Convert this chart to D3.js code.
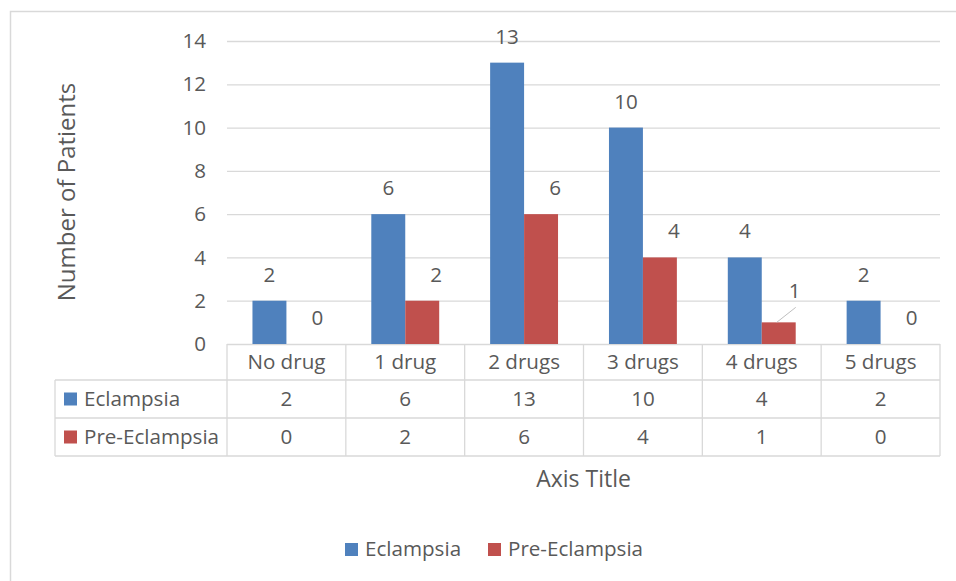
<!DOCTYPE html>
<html>
<head>
<meta charset="utf-8">
<script src="https://cdn.jsdelivr.net/npm/d3@7"></script>
<style>
  html, body { margin: 0; padding: 0; background: #fff; }
  svg { display: block; }
  text { font-family: "Open Sans", sans-serif; fill: #595959; }
</style>
</head>
<body>
<svg id="chart" width="956" height="581"></svg>
<script>
// Number of patients by count of antihypertensive drugs
const categories = ["No drug", "1 drug", "2 drugs", "3 drugs", "4 drugs", "5 drugs"];
const seriesNames = ["Eclampsia", "Pre-Eclampsia"];
const eclampsia = [2, 6, 13, 10, 4, 2];
const preEclampsia = [0, 2, 6, 4, 1, 0];
const yTicks = [0, 2, 4, 6, 8, 10, 12, 14];
const yTitle = "Number of Patients";
const xTitle = "Axis Title";

const seriesValues = [eclampsia, preEclampsia];
const colors = ["#4F81BD", "#C0504D"];
const grid = "#d9d9d9";
const bodySize = 20.6;

const svg = d3.select("#chart");

// outer chart frame
svg.append("rect")
  .attr("x", 10.5).attr("y", 11.5)
  .attr("width", 1000).attr("height", 1000)
  .attr("fill", "none").attr("stroke", grid).attr("stroke-width", 1.5);

const plot = { left: 227, right: 940, top: 41, bottom: 344 };

const x = d3.scaleBand().domain(categories).range([plot.left, plot.right]).padding(0);
const xs = d3.scaleBand().domain(seriesNames).range([0, x.bandwidth()])
  .paddingInner(0).paddingOuter(0.75);
const y = d3.scaleLinear().domain([0, 14]).range([plot.bottom, plot.top]);

// value axis with gridlines
const yAxis = svg.append("g")
  .attr("transform", `translate(${plot.left},0)`)
  .call(d3.axisLeft(y).tickValues(yTicks)
    .tickSizeInner(-(plot.right - plot.left)).tickSizeOuter(0).tickPadding(21));
yAxis.select(".domain").remove();
yAxis.selectAll(".tick line").attr("stroke", grid).attr("stroke-width", 1.3);
yAxis.selectAll(".tick text")
  .attr("font-size", bodySize).attr("fill", "#595959")
  .style("font-family", "'Open Sans', sans-serif");

// bars
const barData = [];
seriesNames.forEach((s, si) => {
  categories.forEach((c, ci) => {
    barData.push({ s, si, c, v: seriesValues[si][ci] });
  });
});

svg.append("g").selectAll("rect")
  .data(barData)
  .join("rect")
  .attr("x", d => x(d.c) + xs(d.s))
  .attr("y", d => y(d.v))
  .attr("width", xs.bandwidth())
  .attr("height", d => y(0) - y(d.v))
  .attr("fill", d => colors[d.si]);

// data labels; the Pre-Eclampsia labels sit to the right of their bars
const labelShift = [0, 14];
const leader = { s: "Pre-Eclampsia", c: "4 drugs", dx: 2, dy: -5 };
const labels = svg.append("g");
barData.forEach(d => {
  const cx = x(d.c) + xs(d.s) + xs.bandwidth() / 2;
  let lx = cx + labelShift[d.si];
  let ly = y(d.v) - 19;
  const moved = d.s === leader.s && d.c === leader.c;
  if (moved) {
    lx += leader.dx;
    ly += leader.dy;
    labels.append("line")
      .attr("x1", lx + 1).attr("y1", ly + 9)
      .attr("x2", cx - 2).attr("y2", y(d.v))
      .attr("stroke", "#bfbfbf").attr("stroke-width", 1);
  }
  labels.append("text")
    .attr("x", lx).attr("y", ly)
    .attr("text-anchor", "middle")
    .attr("font-size", bodySize)
    .text(d.v);
});

// data table under the category axis
const table = svg.append("g");
const rowTops = [344, 380, 418, 456];
const tableLeft = 55;
const lineAttr = sel => sel.attr("stroke", grid).attr("stroke-width", 1.3);

// horizontal rules
[380, 418, 456].forEach(ry => {
  table.append("line").attr("x1", tableLeft).attr("x2", plot.right)
    .attr("y1", ry).attr("y2", ry).call(lineAttr);
});
// vertical rules at category boundaries
const bounds = categories.map(c => x(c)).concat([plot.right]);
bounds.forEach(bx => {
  table.append("line").attr("x1", bx).attr("x2", bx)
    .attr("y1", plot.bottom).attr("y2", 456).call(lineAttr);
});
table.append("line").attr("x1", tableLeft).attr("x2", tableLeft)
  .attr("y1", 380).attr("y2", 456).call(lineAttr);

// category headers
categories.forEach(c => {
  table.append("text")
    .attr("x", x(c) + x.bandwidth() / 2).attr("y", 369)
    .attr("text-anchor", "middle").attr("font-size", bodySize)
    .text(c);
});

// series rows
seriesNames.forEach((s, si) => {
  const top = rowTops[si + 1], bot = rowTops[si + 2];
  const mid = (top + bot) / 2;
  table.append("rect")
    .attr("x", 64).attr("y", mid - 6.5)
    .attr("width", 13).attr("height", 13)
    .attr("fill", colors[si]);
  table.append("text")
    .attr("x", 84).attr("y", mid + 7)
    .attr("font-size", bodySize)
    .text(s);
  categories.forEach((c, ci) => {
    table.append("text")
      .attr("x", x(c) + x.bandwidth() / 2).attr("y", mid + 7)
      .attr("text-anchor", "middle").attr("font-size", bodySize)
      .text(seriesValues[si][ci]);
  });
});

// axis titles
svg.append("text")
  .attr("x", (plot.left + plot.right) / 2).attr("y", 487)
  .attr("text-anchor", "middle").attr("font-size", 23)
  .text(xTitle);

svg.append("text")
  .attr("transform", "translate(75,192) rotate(-90)")
  .attr("text-anchor", "middle").attr("font-size", 24)
  .text(yTitle);

// legend
const legend = svg.append("g");
const legendX = [345, 488];
seriesNames.forEach((s, si) => {
  legend.append("rect")
    .attr("x", legendX[si]).attr("y", 543)
    .attr("width", 13).attr("height", 13)
    .attr("fill", colors[si]);
  legend.append("text")
    .attr("x", legendX[si] + 20).attr("y", 556)
    .attr("font-size", bodySize)
    .text(s);
});
</script>
</body>
</html>
